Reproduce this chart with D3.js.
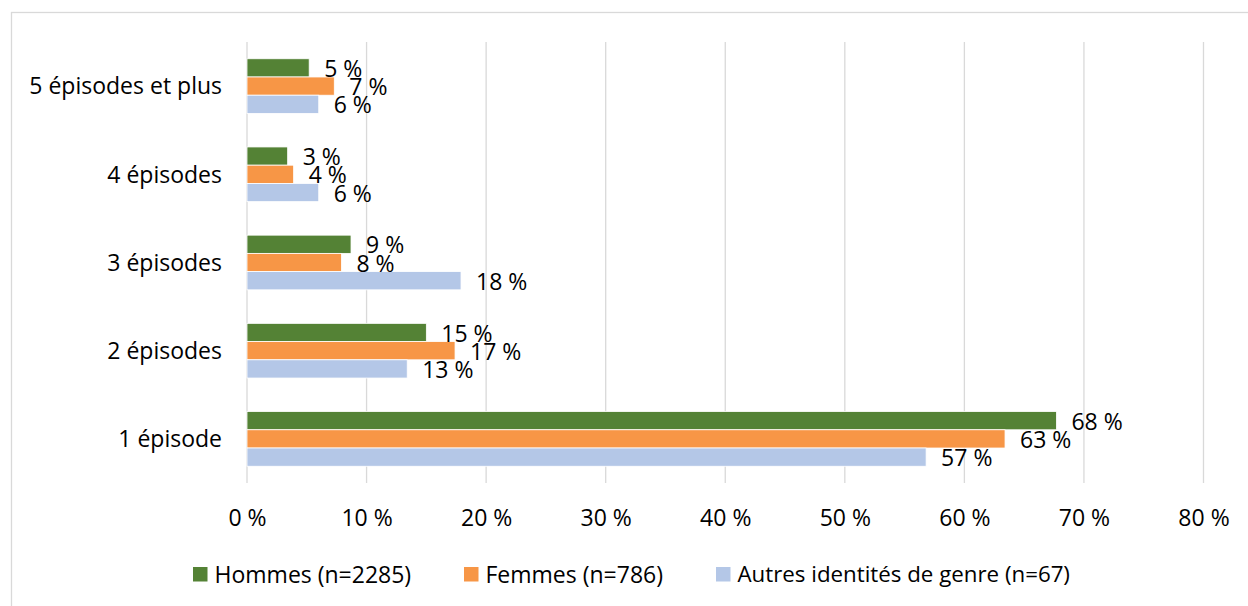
<!DOCTYPE html>
<html><head><meta charset="utf-8">
<script src="https://cdn.jsdelivr.net/npm/d3@7"></script>
<style>
html,body{margin:0;padding:0;background:#fff;}
svg{display:block;font-family:"Open Sans",sans-serif;}
</style></head>
<body>
<script>
const categories = ["5 épisodes et plus", "4 épisodes", "3 épisodes", "2 épisodes", "1 épisode"];
const seriesNames = ["Hommes (n=2285)", "Femmes (n=786)", "Autres identités de genre (n=67)"];
const hommes = [5.2, 3.4, 8.7, 15.0, 67.7];
const femmes = [7.3, 3.9, 7.9, 17.4, 63.4];
const autres = [6.0, 6.0, 17.9, 13.4, 56.8];
const xTicks = [0, 10, 20, 30, 40, 50, 60, 70, 80];
const colors = ["#548235", "#F79646", "#B4C7E7"];

const W = 1248, H = 606;
const svg = d3.select("body").append("svg").attr("width", W).attr("height", H);

svg.append("rect").attr("x", 11.5).attr("y", 12.5).attr("width", W + 20).attr("height", H + 20)
  .attr("fill", "#fff").attr("stroke", "#d9d9d9").attr("stroke-width", 1.3);

const x = d3.scaleLinear().domain([0, 80]).range([247, 1203.5]);
const y = d3.scaleBand().domain(categories).range([42, 483]).paddingInner(0.38).paddingOuter(0.19);
const ySub = d3.scaleBand().domain(seriesNames).range([0, y.bandwidth()]);

// gridlines
svg.append("g").selectAll("line").data(xTicks).join("line")
  .attr("x1", d => x(d)).attr("x2", d => x(d)).attr("y1", 42).attr("y2", 483)
  .attr("stroke", "#d9d9d9").attr("stroke-width", 1.3);

// x axis labels
const xAxis = d3.axisBottom(x).tickValues(xTicks).tickFormat(d => d + " %").tickSize(0).tickPadding(0);
const gx = svg.append("g").attr("transform", "translate(0,518)").call(xAxis);
gx.select(".domain").remove();
gx.selectAll("text").attr("font-family", "Open Sans").attr("font-size", 23).attr("fill", "#000")
  .attr("dy", "0.35em");

// y axis labels
const yAxis = d3.axisLeft(y).tickSize(0).tickPadding(0);
const gy = svg.append("g").attr("transform", "translate(222,1)").call(yAxis);
gy.select(".domain").remove();
gy.selectAll("text").attr("font-family", "Open Sans").attr("font-size", 23).attr("fill", "#000");

const data = seriesNames.map((s, i) => ({
  name: s, color: colors[i],
  values: [hommes, femmes, autres][i].map((v, j) => ({cat: categories[j], v}))
}));

const groups = svg.append("g").selectAll("g").data(data).join("g").attr("fill", d => d.color);
groups.selectAll("rect").data(d => d.values.map(v => ({...v, name: d.name}))).join("rect")
  .attr("x", x(0)).attr("y", d => y(d.cat) + ySub(d.name))
  .attr("width", d => x(d.v) - x(0)).attr("height", ySub.bandwidth())
  .attr("stroke", "#fff").attr("stroke-width", 0.8);

const labels = svg.append("g").selectAll("g").data(data).join("g");
labels.selectAll("text").data(d => d.values.map(v => ({...v, name: d.name}))).join("text")
  .attr("x", d => x(d.v) + 15).attr("y", d => y(d.cat) + ySub(d.name) + ySub.bandwidth() / 2 + 1)
  .attr("dy", "0.35em").attr("font-size", 23).attr("fill", "#000")
  .text(d => Math.round(d.v) + " %");

// legend
const legendX = [193, 464, 716];
const legendFont = [23, 23, 22.3];
const leg = svg.append("g").selectAll("g").data(data).join("g")
  .attr("transform", (d, i) => `translate(${legendX[i]},567)`);
leg.append("rect").attr("width", 14.5).attr("height", 14.5).attr("fill", d => d.color);
leg.append("text").attr("x", 21.5).attr("y", 7.5).attr("dy", "0.35em")
  .attr("font-size", (d, i) => legendFont[i]).attr("fill", "#000").text(d => d.name);
</script>
</body></html>
